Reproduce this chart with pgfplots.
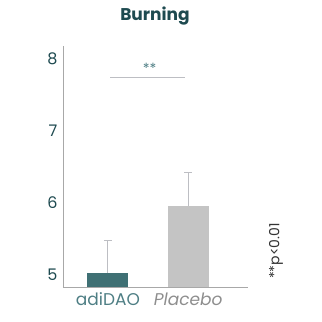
\documentclass[border=0pt]{standalone}
\usepackage{fontspec}
\setmainfont{Poppins}
\usepackage{pgfplots}
\pgfplotsset{compat=1.18}
\definecolor{teal}{HTML}{3F7074}
\definecolor{tealtext}{HTML}{1E4A50}
\definecolor{bargrey}{HTML}{C4C4C4}
\definecolor{errgrey}{HTML}{BDBEC3}
\definecolor{axisgrey}{HTML}{A8A8A8}
\definecolor{labteal}{HTML}{4E7E84}
\definecolor{labgrey}{HTML}{8E8E8E}
\begin{document}
\begin{tikzpicture}[x=1pt,y=1pt]
\path[use as bounding box] (0,0) rectangle (322,-322);
\node[font=\bfseries\fontsize{17}{19}\selectfont, text=tealtext] at (155,-16) {Burning};
\begin{axis}[
  at={(63pt,-287pt)}, anchor=south west,
  scale only axis, width=185pt, height=241pt,
  xmin=-0.56, xmax=1.745,
  ymin=4.83, ymax=8.18,
  axis x line*=bottom, axis y line*=left,
  axis line style={axisgrey, line width=0.8pt, -},
  xtick={0,1}, xticklabels={},
  ytick={5,6,7,8},
  major tick length=0pt,
  /pgf/number format/assume math mode=true,
  yticklabel style={font=\fontsize{16}{18}\selectfont, text=tealtext, xshift=-2pt},
  ybar, bar width=41pt, bar shift=0pt,
  clip=false,
]
\addplot[fill=teal, draw=none,
  error bars/.cd, y dir=plus, y explicit,
  error bar style={errgrey, line width=1pt},
  error mark options={rotate=90, mark size=4pt, errgrey, line width=1pt}]
  coordinates {(0,5.03) +- (0,0.45)};
\addplot[fill=bargrey, draw=none,
  error bars/.cd, y dir=plus, y explicit,
  error bar style={errgrey, line width=1pt},
  error mark options={rotate=90, mark size=4pt, errgrey, line width=1pt}]
  coordinates {(1,5.96) +- (0,0.46)};
% significance bracket
\draw[errgrey, line width=0.9pt] (axis cs:0.03,7.74) -- (axis cs:0.96,7.74);
\node[text=labteal, font=\fontsize{14}{15}\selectfont] at (axis cs:0.52,7.87) {**};
\node[text=labteal, font=\fontsize{17}{19}\selectfont, anchor=north, yshift=-2pt] at (axis cs:0,4.83) {adiDAO};
\node[text=labgrey, font=\itshape\fontsize{17}{19}\selectfont, anchor=north, yshift=-2pt] at (axis cs:1,4.83) {Placebo};
\end{axis}
\node[rotate=90, font=\fontsize{14}{16}\selectfont, text=black!80] at (276,-251) {**p<0.01};
\end{tikzpicture}
\end{document}
